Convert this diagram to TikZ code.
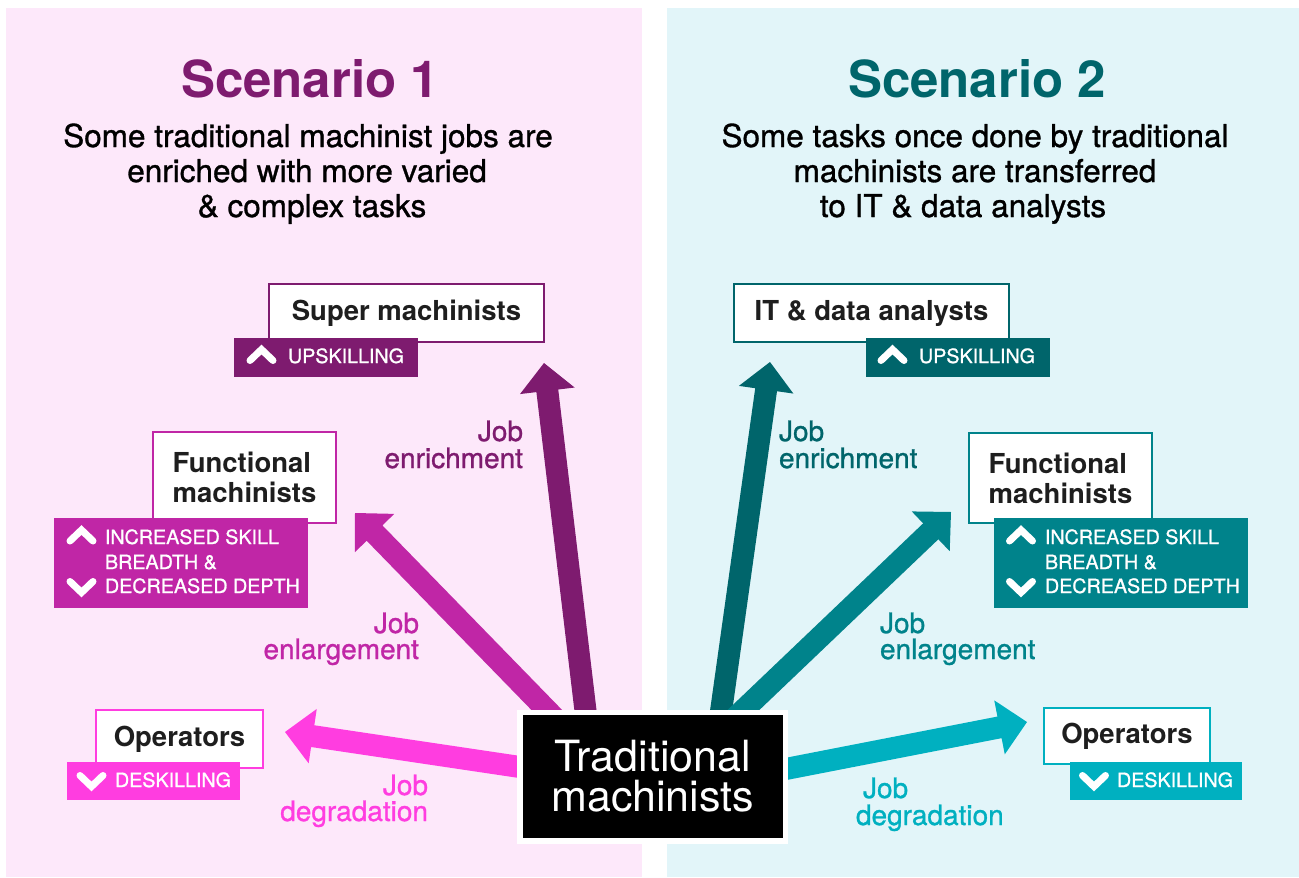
\documentclass[tikz,border=0pt]{standalone}
\usepackage{fontspec}
\setmainfont{TeX Gyre Heros}
\newfontfamily\medfont[FakeBold=1.0]{TeX Gyre Heros}
\usetikzlibrary{calc}

\definecolor{pinkbg}{HTML}{FDE8FA}
\definecolor{tealbg}{HTML}{E2F5F9}
\definecolor{purpleD}{HTML}{7E1B6F}
\definecolor{magentaM}{HTML}{C026A6}
\definecolor{pinkB}{HTML}{FF3DE0}
\definecolor{tealD}{HTML}{00656B}
\definecolor{tealM}{HTML}{00838B}
\definecolor{tealL}{HTML}{00B0C0}
\definecolor{ink}{HTML}{1E1E1E}

% thick arrow from (#2s) to (#2t), head base (#2h)
\newcommand\fatarrow[2]{%
  \coordinate (#2h) at ($(#2t)!28pt!(#2s)$);
  \fill[#1] ($(#2s)!11pt!90:(#2t)$) -- ($(#2h)!11pt!90:(#2t)$)
    -- ($(#2h)!27.5pt!90:(#2t)$) -- (#2t)
    -- ($(#2h)!27.5pt!-90:(#2t)$) -- ($(#2h)!11pt!-90:(#2t)$)
    -- ($(#2s)!11pt!-90:(#2t)$) -- cycle;
}

\tikzset{
  every node/.style={inner sep=0pt, outer sep=0pt},
  title/.style={font=\bfseries\fontsize{51}{60}\selectfont, anchor=base},
  subline/.style={font=\medfont\fontsize{31.5}{35}\selectfont, text=black, anchor=base},
  lbl/.style={font=\medfont\fontsize{28}{28}\selectfont, text=#1},
  rolebox/.style={draw=#1, line width=2pt, fill=white, text=ink, align=left,
    font=\bfseries\fontsize{27.5}{30}\selectfont, anchor=north west},
  tagbox/.style={fill=#1, anchor=north west},
  tagtext/.style={text=white, font=\medfont\fontsize{19.7}{24}\selectfont, anchor=base west},
  chevup/.pic={\draw[white, line width=7pt, line cap=round, line join=miter]
    (-11.5,4.5) -- (0,-6.5) -- (11.5,4.5);},
  chevdown/.pic={\draw[white, line width=7pt, line cap=round, line join=miter]
    (-11.5,-4.5) -- (0,6.5) -- (11.5,-4.5);},
}

\begin{document}
\begin{tikzpicture}[x=1pt, y=-1pt]
\useasboundingbox (0,0) rectangle (1299,878);
\fill[white] (0,0) rectangle (1299,878);

% scenario panels
\fill[pinkbg] (6,8) rectangle (642,877);
\fill[tealbg] (667,8) rectangle (1299,877);

% headings
\node[title, text=purpleD] (title1) at (310,97) {Scenario 1};
\node[title, text=tealD] (title2) at (977,97) {Scenario 2};

\node[subline] (s1a) at (308,147) {Some traditional machinist jobs are};
\node[subline] (s1b) at (307,182) {enriched with more varied};
\node[subline] (s1c) at (312,217) {\& complex tasks};
\node[subline] (s2a) at (975,147) {Some tasks once done by traditional};
\node[subline] (s2b) at (975,182) {machinists are transferred};
\node[subline] (s2c) at (963,217) {to IT \& data analysts};

% arrow end points
\coordinate (a1s) at (589,740); \coordinate (a1t) at (544,363);
\coordinate (a2s) at (576,740); \coordinate (a2t) at (355,513);
\coordinate (a3s) at (540,770); \coordinate (a3t) at (285,732);
\coordinate (b1s) at (717,740); \coordinate (b1t) at (770,362);
\coordinate (b2s) at (712,740); \coordinate (b2t) at (951,512);
\coordinate (b3s) at (760,774); \coordinate (b3t) at (1027,722);

\fatarrow{purpleD}{a1}
\fatarrow{magentaM}{a2}
\fatarrow{pinkB}{a3}
\fatarrow{tealD}{b1}
\fatarrow{tealM}{b2}
\fatarrow{tealL}{b3}

% arrow labels
\node[lbl=purpleD, anchor=base east] (l1a) at (523,441) {Job};
\node[lbl=purpleD, anchor=base east] (l1b) at (523,468) {enrichment};
\node[lbl=magentaM, anchor=base east] (l2a) at (419,633) {Job};
\node[lbl=magentaM, anchor=base east] (l2b) at (419,659) {enlargement};
\node[lbl=pinkB, anchor=base east] (l3a) at (428,795) {Job};
\node[lbl=pinkB, anchor=base east] (l3b) at (428,821) {degradation};
\node[lbl=tealD, anchor=base west] (r1a) at (779,441) {Job};
\node[lbl=tealD, anchor=base west] (r1b) at (779,468) {enrichment};
\node[lbl=tealM, anchor=base west] (r2a) at (880,633) {Job};
\node[lbl=tealM, anchor=base west] (r2b) at (880,659) {enlargement};
\node[lbl=tealL, anchor=base west] (r3a) at (863,798) {Job};
\node[lbl=tealL, anchor=base west] (r3b) at (856,825) {degradation};

% scenario 1 roles
\node[rolebox=purpleD, minimum width=275, minimum height=58] (sup) at (269,284) {Super machinists};
\node[tagbox=purpleD, minimum width=184, minimum height=39] (supTag) at (234,338) {};
\pic at (261.5,356) {chevup};
\node[tagtext] (supTx) at (288,363) {UPSKILLING};

\node[rolebox=magentaM, minimum width=183, minimum height=91] (fun1) at (153,432) {Functional\\machinists};
\node[tagbox=magentaM, minimum width=254, minimum height=90] (fun1Tag) at (54,518) {};
\pic at (81.5,536.5) {chevup};
\pic at (81.5,586) {chevdown};
\node[tagtext] (fun1Ta) at (105,544) {INCREASED SKILL};
\node[tagtext] (fun1Tb) at (105,569) {BREADTH \&};
\node[tagtext] (fun1Tc) at (105,593) {DECREASED DEPTH};

\node[rolebox=pinkB, minimum width=167, minimum height=58] (op1) at (96,710) {Operators};
\node[tagbox=pinkB, minimum width=173, minimum height=38] (op1Tag) at (67,762) {};
\pic at (91.5,780) {chevdown};
\node[tagtext] (op1Tx) at (115,787) {DESKILLING};

% scenario 2 roles
\node[rolebox=tealD, minimum width=275, minimum height=58] (ita) at (734,284) {IT \& data analysts};
\node[tagbox=tealD, minimum width=184, minimum height=39] (itaTag) at (866,338) {};
\pic at (892.5,356) {chevup};
\node[tagtext] (itaTx) at (919,363) {UPSKILLING};

\node[rolebox=tealM, minimum width=183, minimum height=90] (fun2) at (969,433) {Functional\\machinists};
\node[tagbox=tealM, minimum width=254, minimum height=90] (fun2Tag) at (994,518) {};
\pic at (1021,536.5) {chevup};
\pic at (1021,586) {chevdown};
\node[tagtext] (fun2Ta) at (1045,544) {INCREASED SKILL};
\node[tagtext] (fun2Tb) at (1045,569) {BREADTH \&};
\node[tagtext] (fun2Tc) at (1045,593) {DECREASED DEPTH};

\node[rolebox=tealL, minimum width=166, minimum height=56] (op2) at (1044,708) {Operators};
\node[tagbox=tealL, minimum width=172, minimum height=38] (op2Tag) at (1070,762) {};
\pic at (1094,780) {chevdown};
\node[tagtext] (op2Tx) at (1117,787) {DESKILLING};

% shared starting role
\node[fill=black, draw=white, line width=5.5pt, minimum width=265.5, minimum height=128.5,
  text=white, align=center, font=\fontsize{43}{40}\selectfont] (trad) at (652.75,776.5)
  {Traditional\\machinists};
\end{tikzpicture}
\end{document}
